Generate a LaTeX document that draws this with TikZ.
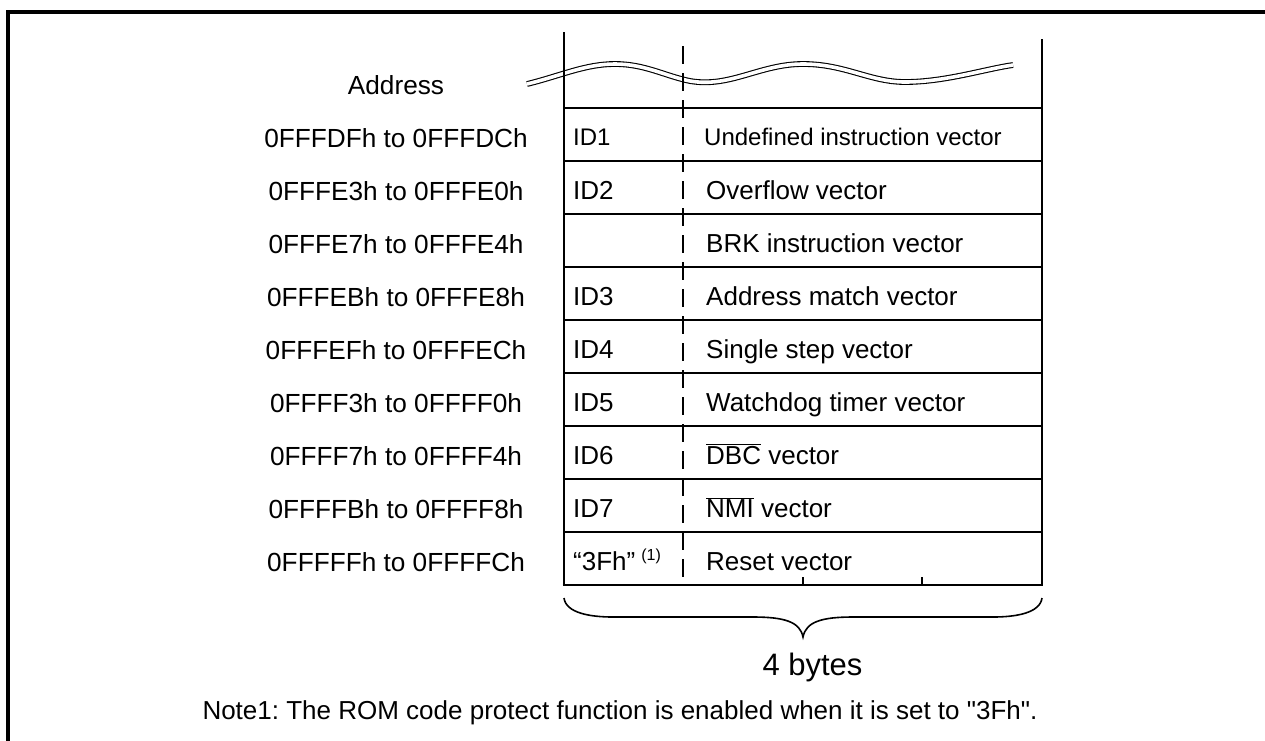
\documentclass[tikz,border=0pt]{standalone}
\usepackage{fontspec}
\setmainfont{Liberation Sans}
\newfontfamily\plainfont{Liberation Sans}
\frenchspacing
\newcommand{\fsz}[1]{\fontsize{#1}{#1}\selectfont}
\tikzset{
  frameline/.style={line width=4pt},
  outerline/.style={line width=2.8pt},
  rowline/.style={line width=2.2pt},
  midline/.style={line width=2.8pt, dash pattern=on 18pt off 9pt},
  tickline/.style={line width=1.8pt},
  waveline/.style={line width=1.1pt, double=white, double distance=3.6pt},
  bracel/.style={line width=1.6pt},
  addr/.style={anchor=base, inner sep=0pt, font=\fsz{26.2}},
  cell/.style={anchor=base west, inner sep=0pt, font=\fsz{26}},
}
\begin{document}
\begin{tikzpicture}[x=1pt,y=-1pt]
\useasboundingbox (0,0) rectangle (1265,740);
\clip (0,0) rectangle (1265,740);
% outer frame (only left and top edges visible)
\draw[frameline] (7.5,760) -- (7.5,12) -- (1280,12);
% wavy break line
\draw[waveline] (527,84) .. controls (560,76) and (585,64) .. (615,64)
  .. controls (645,64) and (665,76) .. (690,81)
  .. controls (730,88) and (760,64) .. (803,64)
  .. controls (845,64) and (870,82) .. (905,82)
  .. controls (945,82) and (985,69) .. (1013,65);
% table verticals
\draw[outerline] (564,32) -- (564,585);
\draw[outerline] (1042,39) -- (1042,585);
\draw[midline] (683,46) -- (683,585);
% horizontal row lines
\foreach \k in {0,...,8} {
  \draw[rowline] (564,108+53*\k) -- (1042,108+53*\k);
}
\draw[outerline] (562.6,585) -- (1043.4,585);
% byte ticks
\draw[tickline] (803,577) -- (803,585);
\draw[tickline] (922,577) -- (922,585);
% brace
\draw[bracel] (564,598) .. controls (566,613) and (590,617) .. (613,617) -- (753,617)
  .. controls (785,617) and (800,622) .. (803,637)
  .. controls (806,622) and (821,617) .. (853,617) -- (993,617)
  .. controls (1016,617) and (1040,613) .. (1042,598);
% texts
\node[addr] (haddr) at (396,94) {Address};
\node[addr] (a0) at (396,147) {0FFFDFh to 0FFFDCh};
\node[addr] (a1) at (396,200) {0FFFE3h to 0FFFE0h};
\node[addr] (a2) at (396,253) {0FFFE7h to 0FFFE4h};
\node[addr] (a3) at (396,306) {0FFFEBh to 0FFFE8h};
\node[addr] (a4) at (396,359) {0FFFEFh to 0FFFECh};
\node[addr] (a5) at (396,412) {0FFFF3h to 0FFFF0h};
\node[addr] (a6) at (396,465) {0FFFF7h to 0FFFF4h};
\node[addr] (a7) at (396,518) {0FFFFBh to 0FFFF8h};
\node[addr] (a8) at (396,571) {0FFFFFh to 0FFFFCh};
\node[cell, font=\fsz{24}] (i0) at (573,145.5) {ID1};
\node[cell] (i1) at (573,199) {ID2};
\node[cell] (i3) at (573,305) {ID3};
\node[cell] (i4) at (573,358) {ID4};
\node[cell] (i5) at (573,411) {ID5};
\node[cell] (i6) at (573,464) {ID6};
\node[cell] (i7) at (573,517) {ID7};
\node[cell] (i8) at (573,570) {“3Fh”\hspace{6pt}\raisebox{10pt}{\fsz{16}(1)}};
\node[cell, font=\fsz{24}] (v0) at (704,145.5) {Undefined instruction vector};
\node[cell] (v1) at (706,199) {Overflow vector};
\node[cell] (v2) at (706,252) {BRK instruction vector};
\node[cell] (v3) at (706,305) {Address match vector};
\node[cell] (v4) at (706,358) {Single step vector};
\node[cell] (v5) at (706,411) {Watchdog timer vector};
\node[cell] (v6) at (706,464) {$\overline{\mbox{DBC}}$ vector};
\node[cell] (v7) at (706,517) {$\overline{\mbox{NMI}}$ vector};
\node[cell] (v8) at (706,570) {Reset vector};
\node[addr, font=\fsz{31}] (bytes) at (812.5,675) {4 bytes};
\node[addr, font=\plainfont\fsz{26}] (note) at (620,719) {Note1: The ROM code protect function is enabled when it is set to "3Fh".};
\end{tikzpicture}
\end{document}
